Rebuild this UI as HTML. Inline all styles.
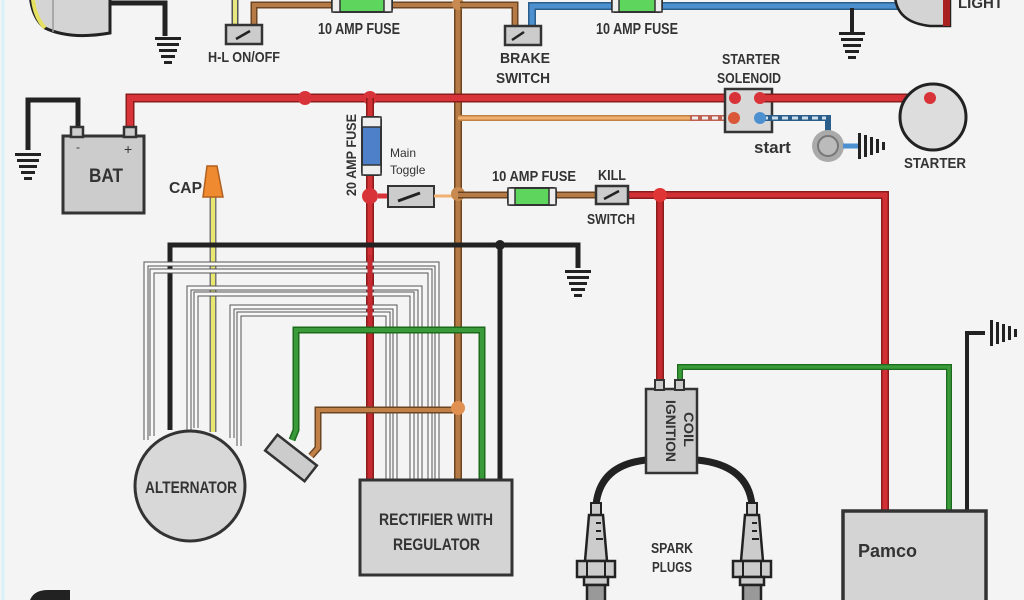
<!DOCTYPE html>
<html><head><meta charset="utf-8"><style>
html,body{margin:0;padding:0;background:#f4f4f4;}
svg{display:block}
text{font-family:"Liberation Sans",sans-serif;fill:#333;}
</style></head><body>
<svg width="1024" height="600" viewBox="0 0 1024 600" xmlns="http://www.w3.org/2000/svg">
<defs>
<g id="gnd">
<rect x="-13" y="0" width="26" height="3" fill="#222"/>
<rect x="-11" y="6" width="22" height="3" fill="#222"/>
<rect x="-9" y="12" width="18" height="3" fill="#222"/>
<rect x="-7" y="18" width="14" height="3" fill="#222"/>
<rect x="-4" y="24" width="8" height="3" fill="#222"/>
</g>
<g id="plug">
<rect x="-5" y="0" width="10" height="12" fill="#ccc" stroke="#222" stroke-width="2"/>
<path d="M-7 12 L7 12 L11 58 L-11 58 Z" fill="#ccc" stroke="#222" stroke-width="2.5"/>
<line x1="0" y1="20" x2="5" y2="20" stroke="#222" stroke-width="2"/>
<line x1="0" y1="28" x2="5" y2="28" stroke="#222" stroke-width="2"/>
<line x1="0" y1="36" x2="7" y2="36" stroke="#222" stroke-width="2"/>
<rect x="-19" y="58" width="38" height="16" fill="#ccc" stroke="#222" stroke-width="2.5"/>
<line x1="-9" y1="58" x2="-9" y2="74" stroke="#222" stroke-width="2"/>
<line x1="9" y1="58" x2="9" y2="74" stroke="#222" stroke-width="2"/>
<rect x="-12" y="74" width="24" height="8" fill="#ccc" stroke="#222" stroke-width="2.5"/>
<rect x="-9" y="82" width="18" height="20" fill="#999" stroke="#222" stroke-width="2.5"/>
</g>
</defs>
<rect width="1024" height="600" fill="#f4f4f4"/>
<line x1="3" y1="0" x2="3" y2="600" stroke="#d8f2f8" stroke-width="3"/>

<!-- headlight -->
<path d="M30 -20 L110 -20 L110 33 Q70 40 45 28 Q28 15 30 -20Z" fill="#d4d4d4" stroke="#222" stroke-width="3"/>
<path d="M33 -20 Q30 12 45 28" fill="none" stroke="#e6e060" stroke-width="4"/>
<line x1="53" y1="-5" x2="53" y2="32" stroke="#999" stroke-width="1.5"/>
<path d="M110 3 L165 3 L165 36" fill="none" stroke="#222" stroke-width="5"/>
<use href="#gnd" x="168" y="37"/>

<!-- H-L switch -->
<line x1="235" y1="0" x2="235" y2="25" stroke="#555" stroke-width="7"/>
<line x1="235" y1="0" x2="235" y2="25" stroke="#e8e880" stroke-width="4"/>
<path d="M254 25 L254 5 L460 5" fill="none" stroke="#6d4520" stroke-width="7"/>
<path d="M254 25 L254 5 L460 5" fill="none" stroke="#b57a45" stroke-width="4"/>
<rect x="226" y="25" width="36" height="19" fill="#ccc" stroke="#333" stroke-width="2.5"/>
<line x1="236" y1="39" x2="250" y2="31" stroke="#222" stroke-width="2.5"/>
<text x="208" y="62" font-size="15" font-weight="bold" textLength="72" lengthAdjust="spacingAndGlyphs">H-L ON/OFF</text>
<rect x="332" y="-4" width="60" height="16" rx="3" fill="#5ed65e" stroke="#333" stroke-width="2"/>
<rect x="332" y="-4" width="8" height="16" fill="#eee" stroke="#333" stroke-width="1.5"/>
<rect x="384" y="-4" width="8" height="16" fill="#eee" stroke="#333" stroke-width="1.5"/>
<text x="318" y="34" font-size="16" font-weight="bold" textLength="82" lengthAdjust="spacingAndGlyphs">10 AMP FUSE</text>

<!-- brown main vertical -->
<line x1="458" y1="0" x2="458" y2="482" stroke="#6d4520" stroke-width="8"/>
<line x1="458" y1="0" x2="458" y2="482" stroke="#b57a45" stroke-width="5"/>
<circle cx="458" cy="4" r="6" fill="#c88a50"/>

<!-- brake switch & blue -->
<path d="M460 5 L515 5 L515 26" fill="none" stroke="#6d4520" stroke-width="7"/>
<path d="M460 5 L515 5 L515 26" fill="none" stroke="#b57a45" stroke-width="4"/>
<path d="M532 26 L532 6 L900 6" fill="none" stroke="#2c5e8c" stroke-width="8"/>
<path d="M532 26 L532 6 L900 6" fill="none" stroke="#4d90d0" stroke-width="5"/>
<rect x="505" y="26" width="36" height="19" fill="#ccc" stroke="#333" stroke-width="2.5"/>
<line x1="512" y1="40" x2="524" y2="32" stroke="#222" stroke-width="2.5"/>
<text x="500" y="63" font-size="15" font-weight="bold" textLength="50" lengthAdjust="spacingAndGlyphs">BRAKE</text>
<text x="496" y="83" font-size="15" font-weight="bold" textLength="54" lengthAdjust="spacingAndGlyphs">SWITCH</text>
<rect x="612" y="-4" width="50" height="16" rx="3" fill="#5ed65e" stroke="#333" stroke-width="2"/>
<rect x="612" y="-4" width="7" height="16" fill="#eee" stroke="#333" stroke-width="1.5"/>
<rect x="655" y="-4" width="7" height="16" fill="#eee" stroke="#333" stroke-width="1.5"/>
<text x="596" y="34" font-size="16" font-weight="bold" textLength="82" lengthAdjust="spacingAndGlyphs">10 AMP FUSE</text>
<line x1="852" y1="8" x2="852" y2="32" stroke="#222" stroke-width="4"/>
<use href="#gnd" x="852" y="32"/>

<!-- tail light -->
<path d="M895 -10 Q893 22 930 26 L950 26 L950 -10Z" fill="#d4d4d4" stroke="#222" stroke-width="2.5"/>
<rect x="943" y="-10" width="7" height="36" fill="#a82020"/>
<text x="958" y="8" font-size="15" font-weight="bold">LIGHT</text>

<!-- red main horizontal -->
<path d="M130 128 L130 98 L735 98" fill="none" stroke="#8a1c1c" stroke-width="9"/>
<path d="M130 128 L130 98 L735 98" fill="none" stroke="#d9333a" stroke-width="6"/>
<circle cx="305" cy="98" r="7" fill="#d9333a"/>
<circle cx="370" cy="98" r="7" fill="#d9333a"/>

<!-- battery -->
<path d="M78 128 L78 100 L28 100 L28 150" fill="none" stroke="#222" stroke-width="5"/>
<use href="#gnd" x="28" y="153"/>
<rect x="63" y="136" width="81" height="77" fill="#ccc" stroke="#333" stroke-width="3"/>
<rect x="71" y="127" width="12" height="10" fill="#ccc" stroke="#333" stroke-width="2.5"/>
<rect x="124" y="127" width="12" height="10" fill="#ccc" stroke="#333" stroke-width="2.5"/>
<text x="76" y="151" font-size="12">-</text>
<text x="124" y="154" font-size="14">+</text>
<text x="89" y="182" font-size="19" font-weight="bold" textLength="34" lengthAdjust="spacingAndGlyphs">BAT</text>

<!-- orange line to solenoid -->
<line x1="458" y1="118" x2="690" y2="118" stroke="#c08040" stroke-width="6"/>
<line x1="458" y1="118" x2="690" y2="118" stroke="#f0b070" stroke-width="3"/>
<line x1="690" y1="118" x2="735" y2="118" stroke="#c06050" stroke-width="6"/>
<line x1="692" y1="118" x2="735" y2="118" stroke="#eee" stroke-width="3" stroke-dasharray="6 4"/>

<!-- 20A fuse & red down -->
<line x1="370" y1="98" x2="370" y2="482" stroke="#8a1c1c" stroke-width="8"/>
<line x1="370" y1="98" x2="370" y2="482" stroke="#d13035" stroke-width="5"/>
<rect x="362" y="117" width="19" height="58" rx="3" fill="#4d80c8" stroke="#333" stroke-width="2"/>
<rect x="362" y="117" width="19" height="10" fill="#eee" stroke="#333" stroke-width="1.5"/>
<rect x="362" y="165" width="19" height="10" fill="#eee" stroke="#333" stroke-width="1.5"/>
<circle cx="370" cy="196" r="8" fill="#d9333a"/>
<text transform="translate(356,196) rotate(-90)" font-size="14" font-weight="bold" textLength="82" lengthAdjust="spacingAndGlyphs">20 AMP FUSE</text>
<text x="390" y="157" font-size="12" fill="#444">Main</text>
<text x="390" y="174" font-size="12" fill="#444">Toggle</text>
<line x1="378" y1="196" x2="388" y2="196" stroke="#d9333a" stroke-width="5"/>
<rect x="388" y="186" width="46" height="21" fill="#ccc" stroke="#333" stroke-width="2"/>
<line x1="398" y1="201" x2="420" y2="193" stroke="#222" stroke-width="3"/>
<line x1="434" y1="196" x2="458" y2="196" stroke="#f0b070" stroke-width="3"/>
<circle cx="458" cy="194" r="7" fill="#c88a50"/>

<!-- 10A fuse kill switch -->
<line x1="458" y1="195" x2="596" y2="195" stroke="#6d4520" stroke-width="7"/>
<line x1="458" y1="195" x2="596" y2="195" stroke="#b57a45" stroke-width="4"/>
<rect x="508" y="188" width="48" height="17" rx="3" fill="#5ed65e" stroke="#333" stroke-width="2"/>
<rect x="508" y="188" width="7" height="17" fill="#eee" stroke="#333" stroke-width="1.5"/>
<rect x="549" y="188" width="7" height="17" fill="#eee" stroke="#333" stroke-width="1.5"/>
<text x="492" y="181" font-size="15" font-weight="bold" textLength="84" lengthAdjust="spacingAndGlyphs">10 AMP FUSE</text>
<text x="598" y="180" font-size="15" font-weight="bold" textLength="28" lengthAdjust="spacingAndGlyphs">KILL</text>
<text x="587" y="224" font-size="15" font-weight="bold" textLength="48" lengthAdjust="spacingAndGlyphs">SWITCH</text>
<path d="M628 195 L885 195 L885 515" fill="none" stroke="#8a1c1c" stroke-width="8"/>
<path d="M628 195 L885 195 L885 515" fill="none" stroke="#d13035" stroke-width="5"/>
<line x1="660" y1="195" x2="660" y2="390" stroke="#8a1c1c" stroke-width="8"/>
<line x1="660" y1="195" x2="660" y2="390" stroke="#c42a30" stroke-width="5"/>
<circle cx="660" cy="195" r="7" fill="#e03535"/>
<rect x="596" y="186" width="32" height="18" fill="#ccc" stroke="#333" stroke-width="2.5"/>
<line x1="604" y1="199" x2="619" y2="191" stroke="#222" stroke-width="2.5"/>

<!-- solenoid & starter -->
<text x="722" y="64" font-size="15" font-weight="bold" textLength="58" lengthAdjust="spacingAndGlyphs">STARTER</text>
<text x="717" y="83" font-size="15" font-weight="bold" textLength="64" lengthAdjust="spacingAndGlyphs">SOLENOID</text>
<rect x="725" y="89" width="47" height="43" fill="#d8d8d8" stroke="#333" stroke-width="2.5"/>
<line x1="760" y1="98" x2="932" y2="98" stroke="#8a1c1c" stroke-width="9"/>
<line x1="760" y1="98" x2="932" y2="98" stroke="#d9333a" stroke-width="6"/>
<circle cx="933" cy="117" r="33" fill="#ddd" stroke="#222" stroke-width="3"/>
<circle cx="930" cy="98" r="6" fill="#d9333a"/>
<circle cx="735" cy="98" r="6" fill="#d9333a"/>
<circle cx="760" cy="98" r="6" fill="#d9333a"/>
<circle cx="734" cy="118" r="6" fill="#d9583a"/>
<path d="M760 118 L828 118 L828 135" fill="none" stroke="#2c5e8c" stroke-width="6"/>
<line x1="762" y1="118" x2="826" y2="118" stroke="#cde" stroke-width="3" stroke-dasharray="6 4"/>
<circle cx="760" cy="118" r="6" fill="#4d90d0"/>
<circle cx="828" cy="146" r="16" fill="#aaa"/>
<circle cx="828" cy="146" r="10" fill="#bbb" stroke="#777" stroke-width="2"/>
<line x1="843" y1="146" x2="858" y2="146" stroke="#4d90d0" stroke-width="5"/>
<g transform="translate(858,146) rotate(-90)"><use href="#gnd"/></g>
<text x="754" y="153" font-size="17" font-weight="bold" fill="#222">start</text>
<text x="904" y="168" font-size="15" font-weight="bold" textLength="62" lengthAdjust="spacingAndGlyphs">STARTER</text>

<!-- cap -->
<line x1="213" y1="197" x2="213" y2="432" stroke="#777" stroke-width="7"/>
<line x1="213" y1="197" x2="213" y2="432" stroke="#e8e870" stroke-width="4"/>
<path d="M207 166 L217 166 L223 197 L203 197Z" fill="#f08a30" stroke="#b06020" stroke-width="1.5"/>
<text x="169" y="193" font-size="16" font-weight="bold" textLength="33" lengthAdjust="spacingAndGlyphs">CAP</text>

<!-- black ground wire -->
<path d="M170 430 L170 245 L578 245 L578 268" fill="none" stroke="#222" stroke-width="5"/>
<use href="#gnd" x="578" y="270"/>
<line x1="500" y1="245" x2="500" y2="482" stroke="#222" stroke-width="5"/>
<circle cx="500" cy="245" r="5" fill="#222"/>

<!-- white wires -->
<g fill="none">
<g stroke="#555" stroke-width="5">
<path d="M146 440 L146 264 L437 264 L437 482"/>
<path d="M152 436 L152 271 L430 271 L430 482"/>
<path d="M189 430 L189 288 L420 288 L420 482"/>
<path d="M196 428 L196 294 L412 294 L412 482"/>
<path d="M232 438 L232 307 L395 307 L395 482"/>
<path d="M239 446 L239 314 L388 314 L388 482"/>
</g>
<g stroke="#f8f8f8" stroke-width="3">
<path d="M146 440 L146 264 L437 264 L437 482"/>
<path d="M152 436 L152 271 L430 271 L430 482"/>
<path d="M189 430 L189 288 L420 288 L420 482"/>
<path d="M196 428 L196 294 L412 294 L412 482"/>
<path d="M232 438 L232 307 L395 307 L395 482"/>
<path d="M239 446 L239 314 L388 314 L388 482"/>
</g>
</g>
<line x1="370" y1="255" x2="370" y2="482" stroke="#c42a30" stroke-width="5"/>
<line x1="458" y1="255" x2="458" y2="482" stroke="#b57a45" stroke-width="5"/>

<!-- green & brown from sensor -->
<path d="M292 440 L296 430 L296 330 L482 330 L482 482" fill="none" stroke="#1c6a1c" stroke-width="7"/>
<path d="M292 440 L296 430 L296 330 L482 330 L482 482" fill="none" stroke="#3a9a3a" stroke-width="4"/>
<path d="M311 456 L318 448 L318 410 L458 410" fill="none" stroke="#6d4520" stroke-width="7"/>
<path d="M311 456 L318 448 L318 410 L458 410" fill="none" stroke="#c08048" stroke-width="4"/>
<circle cx="458" cy="408" r="7" fill="#e09050"/>
<rect x="266" y="448" width="50" height="20" fill="#ccc" stroke="#333" stroke-width="2.5" transform="rotate(38 291 458)"/>

<!-- alternator -->
<circle cx="190" cy="486" r="55" fill="#d8d8d8" stroke="#333" stroke-width="3"/>
<text x="145" y="493" font-size="17" font-weight="bold" textLength="92" lengthAdjust="spacingAndGlyphs">ALTERNATOR</text>

<!-- rectifier -->
<rect x="360" y="480" width="152" height="95" fill="#d4d4d4" stroke="#333" stroke-width="3"/>
<text x="379" y="525" font-size="17" font-weight="bold" textLength="114" lengthAdjust="spacingAndGlyphs">RECTIFIER WITH</text>
<text x="393" y="550" font-size="17" font-weight="bold" textLength="87" lengthAdjust="spacingAndGlyphs">REGULATOR</text>

<!-- ignition coil -->
<path d="M680 388 L680 367 L949 367 L949 515" fill="none" stroke="#1c6a1c" stroke-width="6"/>
<path d="M680 388 L680 367 L949 367 L949 515" fill="none" stroke="#3a9a3a" stroke-width="3.5"/>
<path d="M646 460 Q600 465 596 505" fill="none" stroke="#222" stroke-width="7"/>
<path d="M697 460 Q748 465 752 505" fill="none" stroke="#222" stroke-width="7"/>
<rect x="646" y="389" width="51" height="84" fill="#ccc" stroke="#333" stroke-width="2.5"/>
<rect x="655" y="380" width="9" height="10" fill="#ccc" stroke="#333" stroke-width="2"/>
<rect x="675" y="380" width="9" height="10" fill="#ccc" stroke="#333" stroke-width="2"/>
<text transform="translate(666,400) rotate(90)" font-size="14" font-weight="bold" textLength="62" lengthAdjust="spacingAndGlyphs">IGNITION</text>
<text transform="translate(684,412) rotate(90)" font-size="14" font-weight="bold" textLength="35" lengthAdjust="spacingAndGlyphs">COIL</text>
<use href="#plug" x="596" y="503"/>
<use href="#plug" x="752" y="503"/>
<text x="651" y="553" font-size="15" font-weight="bold" fill="#444" textLength="42" lengthAdjust="spacingAndGlyphs">SPARK</text>
<text x="652" y="572" font-size="15" font-weight="bold" fill="#444" textLength="40" lengthAdjust="spacingAndGlyphs">PLUGS</text>

<!-- pamco -->
<path d="M967 512 L967 333 L985 333" fill="none" stroke="#222" stroke-width="4"/>
<g transform="translate(990,333) rotate(-90)"><use href="#gnd"/></g>
<rect x="843" y="511" width="143" height="95" fill="#d4d4d4" stroke="#333" stroke-width="3.5"/>
<text x="858" y="557" font-size="18" font-weight="bold" fill="#222">Pamco</text>

<!-- bottom-left remnant -->
<path d="M30 600 Q34 590 48 590 L70 590 L70 600Z" fill="#222"/>
</svg>
</body></html>
